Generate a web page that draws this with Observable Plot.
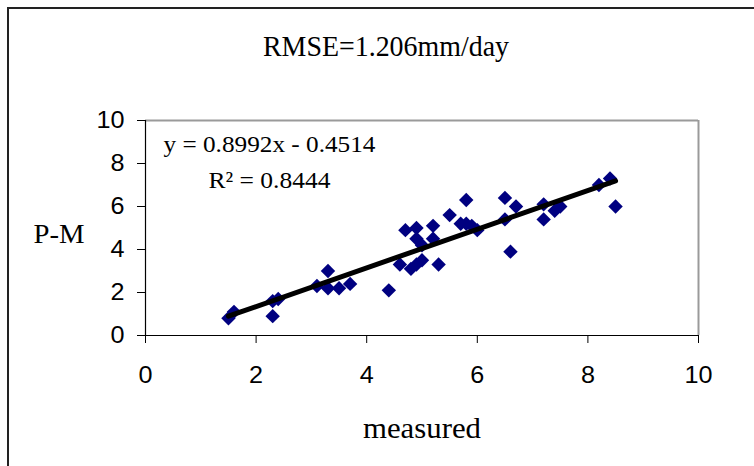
<!DOCTYPE html>
<html>
<head>
<meta charset="utf-8">
<script src="https://cdn.jsdelivr.net/npm/d3@7"></script>
<script src="https://cdn.jsdelivr.net/npm/@observablehq/plot@0.6"></script>
<style>
  html, body { margin: 0; padding: 0; background: #fff; }
  #wrap { position: relative; width: 754px; height: 466px; overflow: hidden; }
  #frame { position: absolute; left: 7px; top: 7px; width: 800px; height: 500px; border: 2px solid #222; box-sizing: border-box; pointer-events: none; }
</style>
</head>
<body>
<div id="wrap"><div id="chart"></div><div id="frame"></div></div>
<script>
// ---- data ----
const measured = [1.5, 1.6, 2.3, 2.3, 2.4, 3.1, 3.3, 3.3, 3.5, 3.7, 4.4, 4.6, 4.8, 4.9, 5.0, 4.7, 4.9, 4.9, 5.0, 5.2, 5.2, 5.3, 5.5, 5.7, 5.8, 5.8, 5.9, 6.0, 6.5, 6.5, 6.7, 6.6, 7.2, 7.2, 7.4, 7.5, 8.2, 8.4, 8.5];
const pm       = [0.8, 1.1, 0.9, 1.6, 1.7, 2.3, 3.0, 2.2, 2.2, 2.4, 2.1, 3.3, 3.1, 3.3, 3.5, 4.9, 5.0, 4.5, 4.2, 5.1, 4.5, 3.3, 5.6, 5.2, 6.3, 5.2, 5.1, 4.9, 6.4, 5.4, 6.0, 3.9, 6.1, 5.4, 5.8, 6.0, 7.0, 7.3, 6.0];
const xTicks = [0, 2, 4, 6, 8, 10];
const yTicks = [0, 2, 4, 6, 8, 10];
const slope = 0.8992;
const intercept = -0.4514;
const titleText = "RMSE=1.206mm/day";
const eqText = "y = 0.8992x - 0.4514";
const r2Text = "R\u00B2 = 0.8444";
const xLabel = "measured";
const yLabel = "P-M";

const points = measured.map((x, i) => ({x, y: pm[i]}));
const xMin = d3.min(measured), xMax = d3.max(measured);
const trend = [xMin, xMax].map(x => ({x, y: slope * x + intercept}));

const serif = "'Liberation Serif', 'Times New Roman', serif";
const sans = "'Liberation Sans', Arial, sans-serif";

const chart = Plot.plot({
  width: 754,
  height: 466,
  marginLeft: 145,
  marginRight: 56,
  marginTop: 120,
  marginBottom: 131,
  style: {background: "transparent", overflow: "visible"},
  x: {domain: [0, 10]},
  y: {domain: [0, 10]},
  marks: [
    Plot.ruleY([10], {stroke: "#9a9a9a", strokeWidth: 2}),
    Plot.ruleX([10], {stroke: "#9a9a9a", strokeWidth: 2}),
    Plot.axisX({ticks: xTicks, tickSize: 8, tickPadding: 22, fontSize: 24, fontFamily: sans, fill: "#000", stroke: "#000", label: null, className: "xax"}),
    Plot.axisY({ticks: yTicks, tickSize: 8, tickPadding: 13, fontSize: 24, fontFamily: sans, fill: "#000", stroke: "#000", label: null, className: "yax"}),
    Plot.ruleX([0], {stroke: "#000", strokeWidth: 1.2}),
    Plot.ruleY([0], {stroke: "#000", strokeWidth: 1.2}),
    Plot.dot(points, {x: "x", y: "y", symbol: "diamond2", r: 6.5, fill: "#000080", stroke: null}),
    Plot.line(trend, {x: "x", y: "y", stroke: "#000", strokeWidth: 5}),
    Plot.text([eqText], {frameAnchor: "top-left", dx: 18, dy: 31, textAnchor: "start", lineAnchor: "bottom", fontSize: 23, fontFamily: serif, fill: "#000", className: "eq1"}),
    Plot.text([r2Text], {frameAnchor: "top-left", dx: 63, dy: 67, textAnchor: "start", lineAnchor: "bottom", fontSize: 23, fontFamily: serif, fill: "#000", className: "eq2"}),
    Plot.text([titleText], {frameAnchor: "top", dx: -36, dy: -65, textAnchor: "middle", lineAnchor: "bottom", fontSize: 29, fontFamily: serif, fill: "#000", className: "ttl"}),
    Plot.text([yLabel], {frameAnchor: "top-left", dx: -112, dy: 122, textAnchor: "start", lineAnchor: "bottom", fontSize: 27, fontFamily: serif, fill: "#000", className: "ylab"}),
    Plot.text([xLabel], {frameAnchor: "bottom", dx: 0, dy: 102, textAnchor: "middle", lineAnchor: "bottom", fontSize: 30, fontFamily: serif, fill: "#000", className: "xlab"})
  ]
});
document.getElementById("chart").appendChild(chart);

// horizontal fitting of text widths to the reference
const svg = d3.select(chart);
const widths = {ttl: 246, eq1: 212, eq2: 122, ylab: 51, xlab: 118};
Object.entries(widths).forEach(([cls, w]) => {
  svg.selectAll("." + cls + " text").attr("textLength", w).attr("lengthAdjust", "spacingAndGlyphs");
});
svg.selectAll(".xax text, .yax text").each(function() {
  const t = d3.select(this);
  const tr = t.attr("transform") || "";
  t.attr("transform", tr + " scale(1.05,1)");
});
</script>
</body>
</html>
